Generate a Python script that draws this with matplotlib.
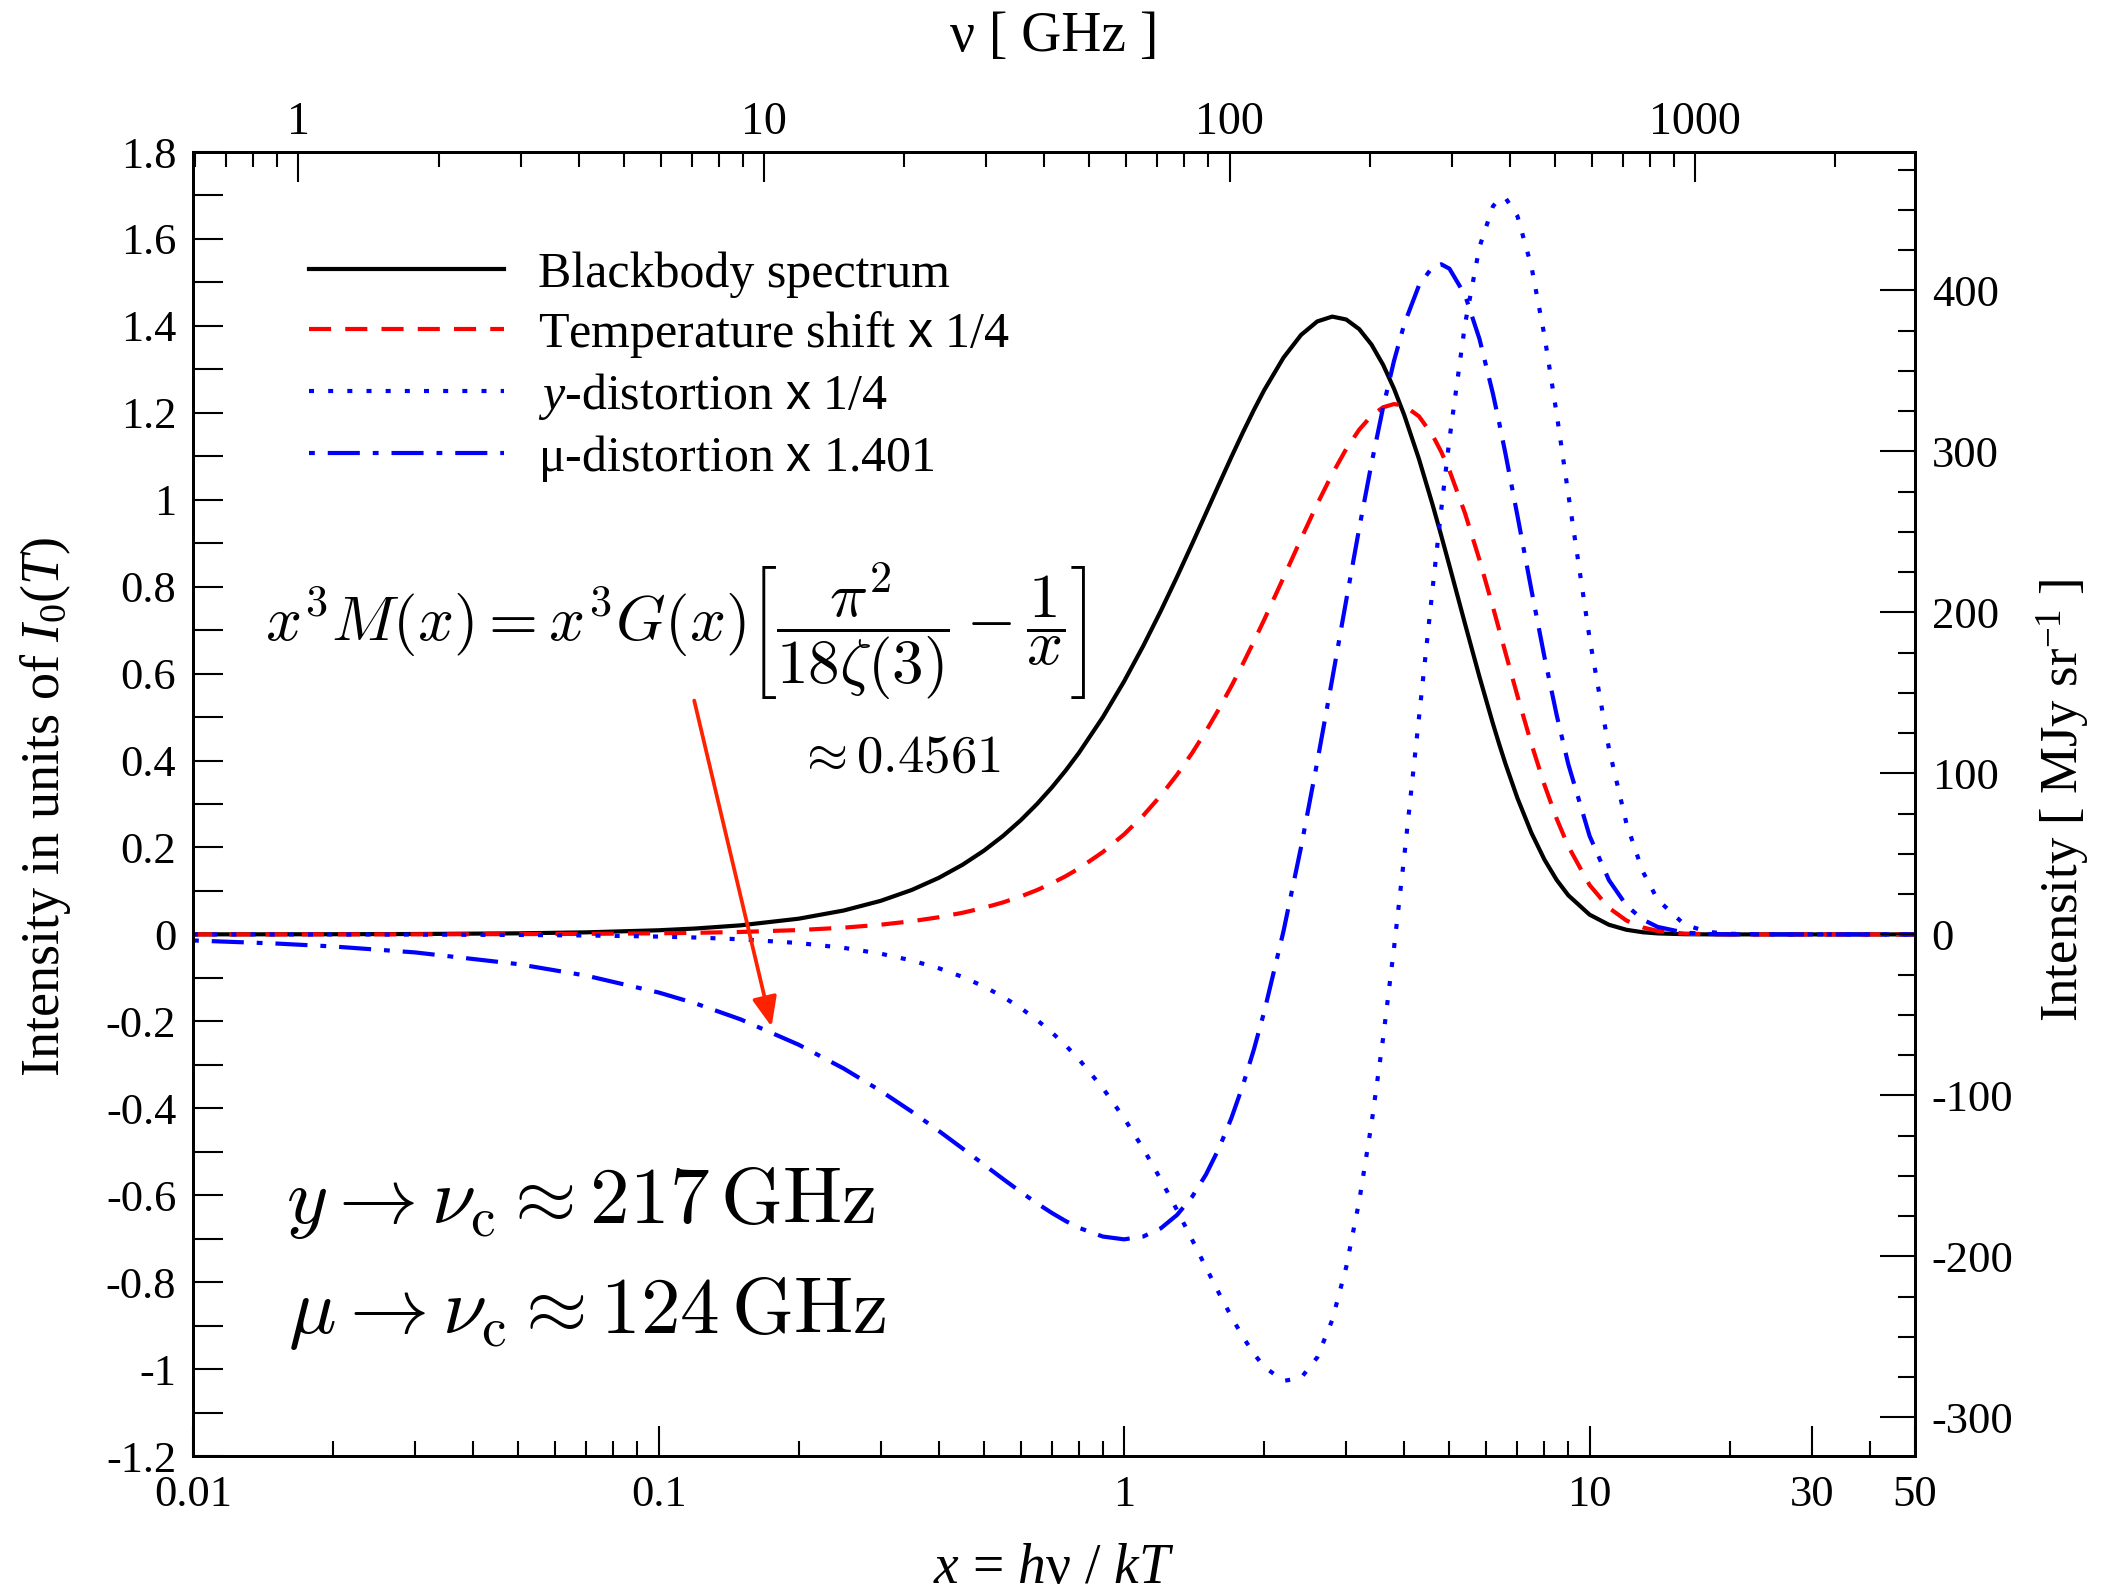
import matplotlib
matplotlib.use('Agg')
import matplotlib.pyplot as plt
from matplotlib.ticker import (FixedLocator, MultipleLocator, LogLocator,
                               NullFormatter, FuncFormatter, FixedFormatter)

# x = h nu / kT sample points and the curve values
x_vals = [0.01, 0.015, 0.02, 0.03, 0.05, 0.07, 0.1, 0.12, 0.15, 0.2, 0.25, 0.3,
          0.35, 0.4, 0.45, 0.5, 0.55, 0.6, 0.65, 0.7, 0.75, 0.8, 0.9, 1.0, 1.1,
          1.2, 1.3, 1.4, 1.5, 1.6, 1.7, 1.8, 1.9, 2.0, 2.2, 2.4, 2.6, 2.8, 3.0,
          3.2, 3.4, 3.6, 3.8, 4.0, 4.3, 4.6, 4.8, 5.0, 5.4, 5.8, 6.2, 6.4, 6.6,
          7.0, 7.5, 8.0, 8.5, 9.0, 10, 11, 12, 13, 14, 16, 18, 20, 25, 30, 50]

blackbody = [0.0001, 0.00022, 0.0004, 0.00089, 0.00244, 0.00473, 0.00951, 0.01355,
             0.02086, 0.03613, 0.05501, 0.07717, 0.10231, 0.13013, 0.16034, 0.19269,
             0.22690, 0.26274, 0.29996, 0.33835, 0.37769, 0.41778, 0.49945, 0.58198,
             0.66412, 0.74479, 0.82307, 0.89814, 0.96936, 1.03617, 1.09814, 1.15493,
             1.20632, 1.25214, 1.32685, 1.37920, 1.41017, 1.42133, 1.41468, 1.39248,
             1.35699, 1.31063, 1.25562, 1.19407, 1.09364, 0.98834, 0.91770, 0.84796,
             0.71443, 0.59251, 0.48465, 0.43629, 0.39163, 0.31306, 0.23346, 0.17182,
             0.12498, 0.08998, 0.04540, 0.02223, 0.01062, 0.00497, 0.00228, 0.00046,
             0.00009, 0.00002, 0, 0, 0]

temp_shift = [0.000025, 0.000056, 0.0001, 0.000225, 0.000625, 0.001225, 0.0025, 0.0036,
              0.00561, 0.00997, 0.01554, 0.02233, 0.03031, 0.03947, 0.04978, 0.06121,
              0.07375, 0.08735, 0.10198, 0.11762, 0.13422, 0.15173, 0.18937, 0.23017,
              0.27376, 0.31974, 0.36771, 0.41724, 0.46792, 0.51932, 0.57102, 0.62264,
              0.67377, 0.72406, 0.82071, 0.91008, 0.99015, 1.05933, 1.11661, 1.16128,
              1.19327, 1.21271, 1.22013, 1.21635, 1.19183, 1.14813, 1.11037, 1.06713,
              0.96885, 0.86174, 0.75274, 0.69923, 0.64708, 0.54836, 0.43798, 0.34374,
              0.26564, 0.20247, 0.11350, 0.06113, 0.03185, 0.01614, 0.00799, 0.00184,
              0.0004, 0.00008, 0, 0, 0]

y_dist = [-0.00005, -0.00011, -0.0002, -0.00045, -0.00125, -0.00245, -0.00499, -0.00718,
          -0.01121, -0.01987, -0.03093, -0.04433, -0.06001, -0.07789, -0.09789, -0.11989,
          -0.14380, -0.16949, -0.19684, -0.22583, -0.25596, -0.28745, -0.35351, -0.42260,
          -0.49339, -0.56453, -0.63464, -0.70245, -0.76661, -0.82597, -0.87940, -0.92593,
          -0.96463, -0.99484, -1.02729, -1.02030, -0.97311, -0.88708, -0.76558, -0.61316,
          -0.43581, -0.23980, -0.03182, 0.18156, 0.49853, 0.79613, 0.97675, 1.13953,
          1.40387, 1.58150, 1.67502, 1.69303, 1.69405, 1.65208, 1.53658, 1.37681,
          1.19629, 1.01281, 0.68113, 0.42796, 0.25482, 0.14526, 0.07986, 0.02213,
          0.0056, 0.00132, 0.00003, 0, 0]

mu_dist = [-0.01395, -0.02087, -0.02776, -0.04145, -0.06845, -0.09494, -0.13360, -0.15873,
           -0.19541, -0.25379, -0.30869, -0.36008, -0.40789, -0.45210, -0.49268, -0.52962,
           -0.56292, -0.59257, -0.61859, -0.64099, -0.65980, -0.67506, -0.69511, -0.70156,
           -0.69495, -0.67594, -0.64525, -0.60369, -0.55215, -0.49154, -0.42283, -0.34703,
           -0.26512, -0.17813, 0.00715, 0.20111, 0.39666, 0.58746, 0.76821, 0.93452,
           1.08318, 1.21186, 1.31926, 1.40486, 1.49304, 1.53588, 1.54174, 1.53153,
           1.47091, 1.36998, 1.24361, 1.17496, 1.10449, 0.96259, 0.79221, 0.63781,
           0.50385, 0.39144, 0.22651, 0.12511, 0.06654, 0.03430, 0.01722, 0.00407,
           0.0009, 0.00019, 0, 0, 0]

labels = ['Blackbody spectrum',
          r'Temperature shift $\mathsf{x}$ 1/4',
          r'$y$-distortion $\mathsf{x}$ 1/4',
          r'μ-distortion $\mathsf{x}$ 1.401']

bottom_ticks = [0.01, 0.1, 1, 10, 30, 50]
bottom_ticklabels = ['0.01', '0.1', '1', '10', '30', '50']
top_ticks = [1, 10, 100, 1000]
top_ticklabels = ['1', '10', '100', '1000']

GHZ_PER_X = 59.35      # top axis: nu [GHz] per unit x
MJY_PER_UNIT = 270.0   # right axis: MJy/sr per unit I0(T)

plt.rcParams['font.family'] = 'Liberation Serif'
plt.rcParams['mathtext.fontset'] = 'custom'
plt.rcParams['mathtext.rm'] = 'Liberation Serif'
plt.rcParams['mathtext.it'] = 'Liberation Serif:italic'
plt.rcParams['mathtext.sf'] = 'Liberation Sans'
plt.rcParams['axes.unicode_minus'] = False

fig = plt.figure(figsize=(21.08, 15.94), dpi=100)
ax = fig.add_axes([193 / 2108, 138 / 1594, 1722 / 2108, 1304 / 1594])

lw = 3
ax.plot(x_vals, blackbody, color='black', lw=lw, label=labels[0])
ax.plot(x_vals, temp_shift, color='red', lw=lw, dashes=(5.3, 3.4), label=labels[1])
ax.plot(x_vals, y_dist, color='blue', lw=lw, dashes=(1.2, 3.4), label=labels[2])
ax.plot(x_vals, mu_dist, color='blue', lw=lw, dashes=(1.4, 3.1, 7.7, 3.1), label=labels[3])

ax.set_xscale('log')
ax.set_xlim(0.01, 50)
ax.set_ylim(-1.2, 1.8)

ax.xaxis.set_major_locator(FixedLocator(bottom_ticks))
ax.xaxis.set_major_formatter(FixedFormatter(bottom_ticklabels))
ax.xaxis.set_minor_locator(LogLocator(base=10, subs=[2, 3, 4, 5, 6, 7, 8, 9], numticks=30))
ax.xaxis.set_minor_formatter(NullFormatter())
ax.yaxis.set_major_locator(MultipleLocator(0.2))
ax.yaxis.set_minor_locator(MultipleLocator(0.1))
ax.yaxis.set_major_formatter(FuncFormatter(lambda v, p: '%g' % (round(v, 2) + 0.0)))

for sp in ax.spines.values():
    sp.set_linewidth(2)
ax.tick_params(which='both', direction='in', width=1.5, labelsize=32)
ax.tick_params(axis='x', which='major', length=21.6, pad=14)
ax.tick_params(axis='x', which='minor', length=10.8)
ax.tick_params(axis='y', which='both', length=21.6, pad=12)

# top axis in GHz
axt = ax.twiny()
axt.set_xscale('log')
axt.set_xlim(0.01 * GHZ_PER_X, 50 * GHZ_PER_X)
axt.xaxis.set_major_locator(FixedLocator(top_ticks))
axt.xaxis.set_major_formatter(FixedFormatter(top_ticklabels))
axt.xaxis.set_minor_locator(LogLocator(base=10, subs=[2, 3, 4, 5, 6, 7, 8, 9], numticks=30))
axt.xaxis.set_minor_formatter(NullFormatter())
axt.tick_params(which='both', direction='in', width=1.5, labelsize=33)
axt.tick_params(which='major', length=21.6, pad=6)
axt.tick_params(which='minor', length=10.8)
axt.set_xlabel('ν [ GHz ]', fontsize=40)
axt.xaxis.label.set_va('center')
axt.xaxis.set_label_coords(0.5, 1.088)

# right axis in MJy/sr
axr = ax.twinx()
axr.set_ylim(-1.2 * MJY_PER_UNIT, 1.8 * MJY_PER_UNIT)
axr.yaxis.set_major_locator(MultipleLocator(100))
axr.yaxis.set_minor_locator(MultipleLocator(25))
axr.yaxis.set_major_formatter(FuncFormatter(lambda v, p: '%d' % round(v)))
axr.tick_params(which='both', direction='in', width=1.5, labelsize=32)
axr.tick_params(which='major', length=25, pad=12)
axr.tick_params(which='minor', length=12)
axr.set_ylabel('Intensity [ MJy sr$^{-1}$ ]', fontsize=38)
axr.yaxis.label.set_va('center')
axr.yaxis.set_label_coords(1.086, 0.503)
for a in (axt, axr):
    for sp in a.spines.values():
        sp.set_linewidth(2)

ax.set_xlabel('$x$ = $h$ν / $kT$', fontsize=40)
ax.xaxis.label.set_va('center')
ax.xaxis.set_label_coords(0.5, -0.0865)
ax.set_ylabel('Intensity in units of $I_0(T)$', fontsize=39)
ax.yaxis.label.set_va('center')
ax.yaxis.set_label_coords(-0.0855, 0.498)

ax.legend(loc='upper left', bbox_to_anchor=(0.0674, 0.9238), frameon=False,
          fontsize=36, handlelength=3.9, handletextpad=0.68, labelspacing=0.22,
          borderpad=0, borderaxespad=0)

ax.text(0.0418, 0.6319,
        r'$x^3M(x) = x^3G(x)\left[\dfrac{\pi^2}{18\zeta(3)} - \dfrac{1}{x}\right]$',
        transform=ax.transAxes, fontsize=45.5, math_fontfamily='cm',
        ha='left', va='center')
ax.text(0.351, 0.5345, r'$\approx 0.4561$', transform=ax.transAxes,
        fontsize=38, math_fontfamily='cm', ha='left', va='center')
ax.text(0.054, 0.1787, r'$y \rightarrow \nu_{\rm c} \approx 217\,{\rm GHz}$',
        transform=ax.transAxes, fontsize=57, math_fontfamily='cm',
        ha='left', va='baseline')
ax.text(0.055, 0.0943, r'$\mu \rightarrow \nu_{\rm c} \approx 124\,{\rm GHz}$',
        transform=ax.transAxes, fontsize=57, math_fontfamily='cm',
        ha='left', va='baseline')

ax.annotate('', xy=(0.1749, -0.2123), xytext=(0.1193, 0.538),
            arrowprops=dict(arrowstyle='-|>,head_length=18,head_width=7.5',
                            color='#ff2200', lw=2.7, shrinkA=0, shrinkB=0,
                            mutation_scale=1))

fig.savefig('out.png', dpi=100)
